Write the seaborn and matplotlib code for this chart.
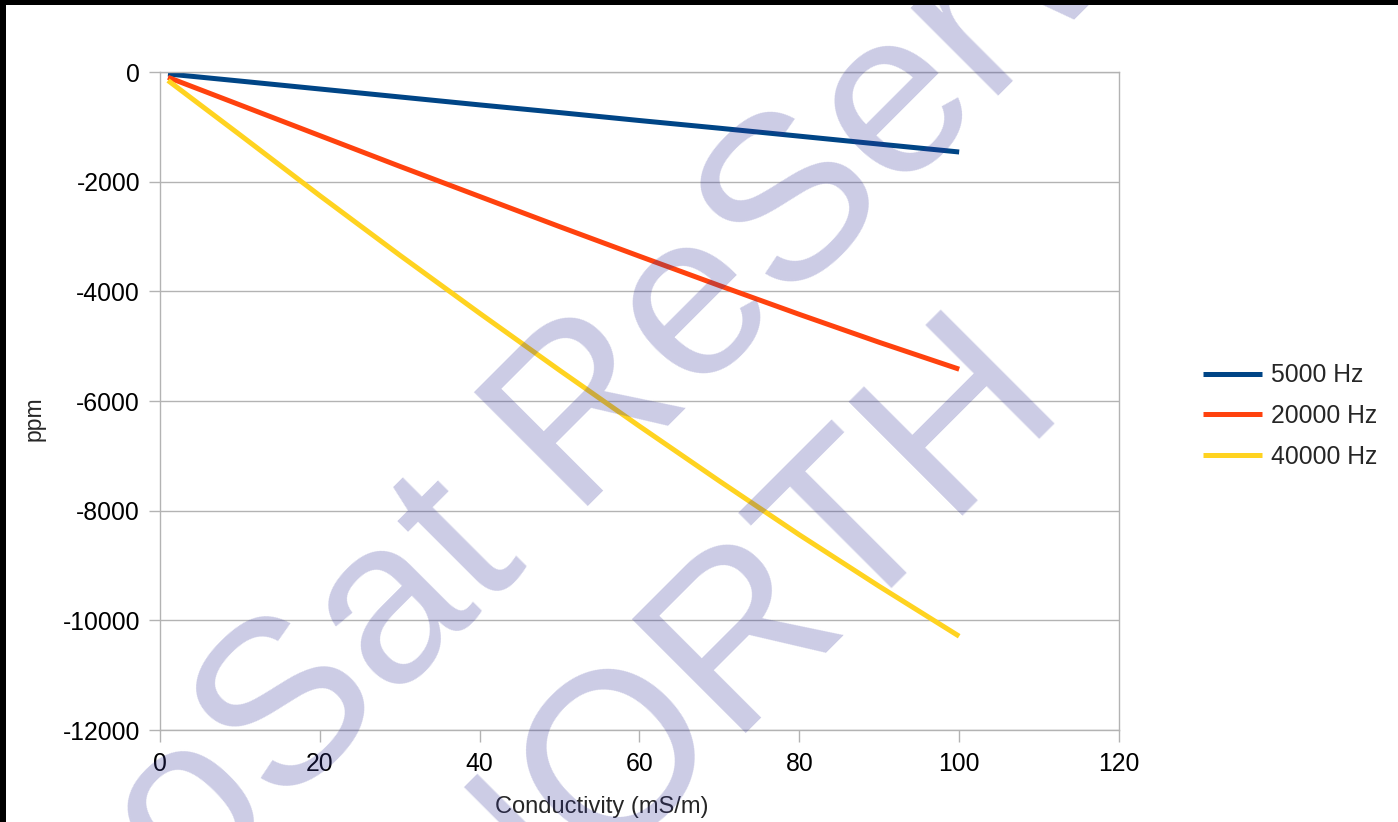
import numpy as np
import pandas as pd
import matplotlib
matplotlib.use("Agg")
import matplotlib.pyplot as plt
from matplotlib.patches import Rectangle
import seaborn as sns

# ---- data ----
conductivity = [1, 10, 20, 30, 40, 50, 60, 70, 80, 90, 100]
ppm_5000 = [-36, -165, -310, -455, -600, -740, -885, -1025, -1170, -1315, -1459]
ppm_20000 = [-97, -600, -1160, -1720, -2270, -2820, -3360, -3895, -4420, -4930, -5420]
ppm_40000 = [-155, -1145, -2255, -3340, -4400, -5440, -6460, -7460, -8440, -9380, -10290]
series_names = ["5000 Hz", "20000 Hz", "40000 Hz"]
series_colors = ["#004586", "#ff420e", "#ffd320"]
x_ticks = [0, 20, 40, 60, 80, 100, 120]
y_ticks = [-12000, -10000, -8000, -6000, -4000, -2000, 0]
x_label = "Conductivity (mS/m)"
y_label = "ppm"
watermark_line1 = "GeoSat ReServices"
watermark_line2 = "NORTH"

df = pd.DataFrame({
    "x": conductivity * 3,
    "y": ppm_5000 + ppm_20000 + ppm_40000,
    "series": [series_names[0]] * len(conductivity)
              + [series_names[1]] * len(conductivity)
              + [series_names[2]] * len(conductivity),
})

sns.set_style("white")
plt.rcParams["font.family"] = ["Liberation Sans", "DejaVu Sans"]
plt.rcParams["axes.unicode_minus"] = False

W, H = 1398, 822
fig = plt.figure(figsize=(W / 100, H / 100), dpi=100)
fig.patch.set_facecolor("white")

def fx(px):
    return px / W

def fy(py):
    return 1 - py / H

ax = fig.add_axes([fx(160), fy(730), fx(1119) - fx(160), fy(72) - fy(730)])

sns.lineplot(data=df, x="x", y="y", hue="series", hue_order=series_names,
             palette=dict(zip(series_names, series_colors)),
             linewidth=3.6, ax=ax, sort=False, estimator=None)
for ln in ax.lines:
    ln.set_solid_capstyle("butt")

grid_c = "#b3b3b3"
ax.set_xlim(0, 120)
ax.set_ylim(-12000, 0)
ax.set_xticks(x_ticks)
ax.set_yticks(y_ticks)
ax.set_xticklabels([str(v) for v in x_ticks])
ax.set_yticklabels([str(v) for v in y_ticks])
ax.yaxis.grid(True, color=grid_c, linewidth=1.0)
ax.xaxis.grid(False)
ax.set_axisbelow(True)
for s in ax.spines.values():
    s.set_color(grid_c)
    s.set_linewidth(1.0)
ax.tick_params(axis="both", colors=grid_c, labelcolor="black", labelsize=17.8, width=1.0)
ax.tick_params(axis="x", length=8.6, pad=7.5, direction="out", bottom=True)
ax.tick_params(axis="y", length=7.9, pad=6.5, direction="out", left=True)
ax.set_xlabel("")
ax.set_ylabel("")

handles, labels = ax.get_legend_handles_labels()
for h in handles:
    h.set_linewidth(3.6)
    h.set_solid_capstyle("butt")
ax.legend(handles, labels, loc="center left", bbox_to_anchor=(fx(1203), fy(416)),
          bbox_transform=fig.transFigure, frameon=False, fontsize=17.8,
          handlelength=2.4, handletextpad=0.36, labelspacing=0.67,
          borderpad=0, borderaxespad=0)

fig.text(fx(602), fy(813), x_label, ha="center", va="baseline", fontsize=17)
fig.text(fx(34), fy(419), y_label, ha="center", va="center", rotation=90, fontsize=16.5)

# watermark
wm_kw = dict(rotation=45, rotation_mode="anchor", fontsize=168, color="#333399",
             alpha=0.25, zorder=10)
fig.text(fx(-30), fy(1125), watermark_line1, ha="left", va="baseline", **wm_kw)
fig.text(fx(772), fy(688), watermark_line2, ha="center", va="baseline", **wm_kw)

# black screenshot edges (top and left)
fig.add_artist(Rectangle((0, fy(5)), 1, 5 / H, transform=fig.transFigure,
                         facecolor="black", edgecolor="none", zorder=20))
fig.add_artist(Rectangle((0, 0), 6 / W, 1, transform=fig.transFigure,
                         facecolor="black", edgecolor="none", zorder=20))

fig.savefig("out.png", dpi=100)
